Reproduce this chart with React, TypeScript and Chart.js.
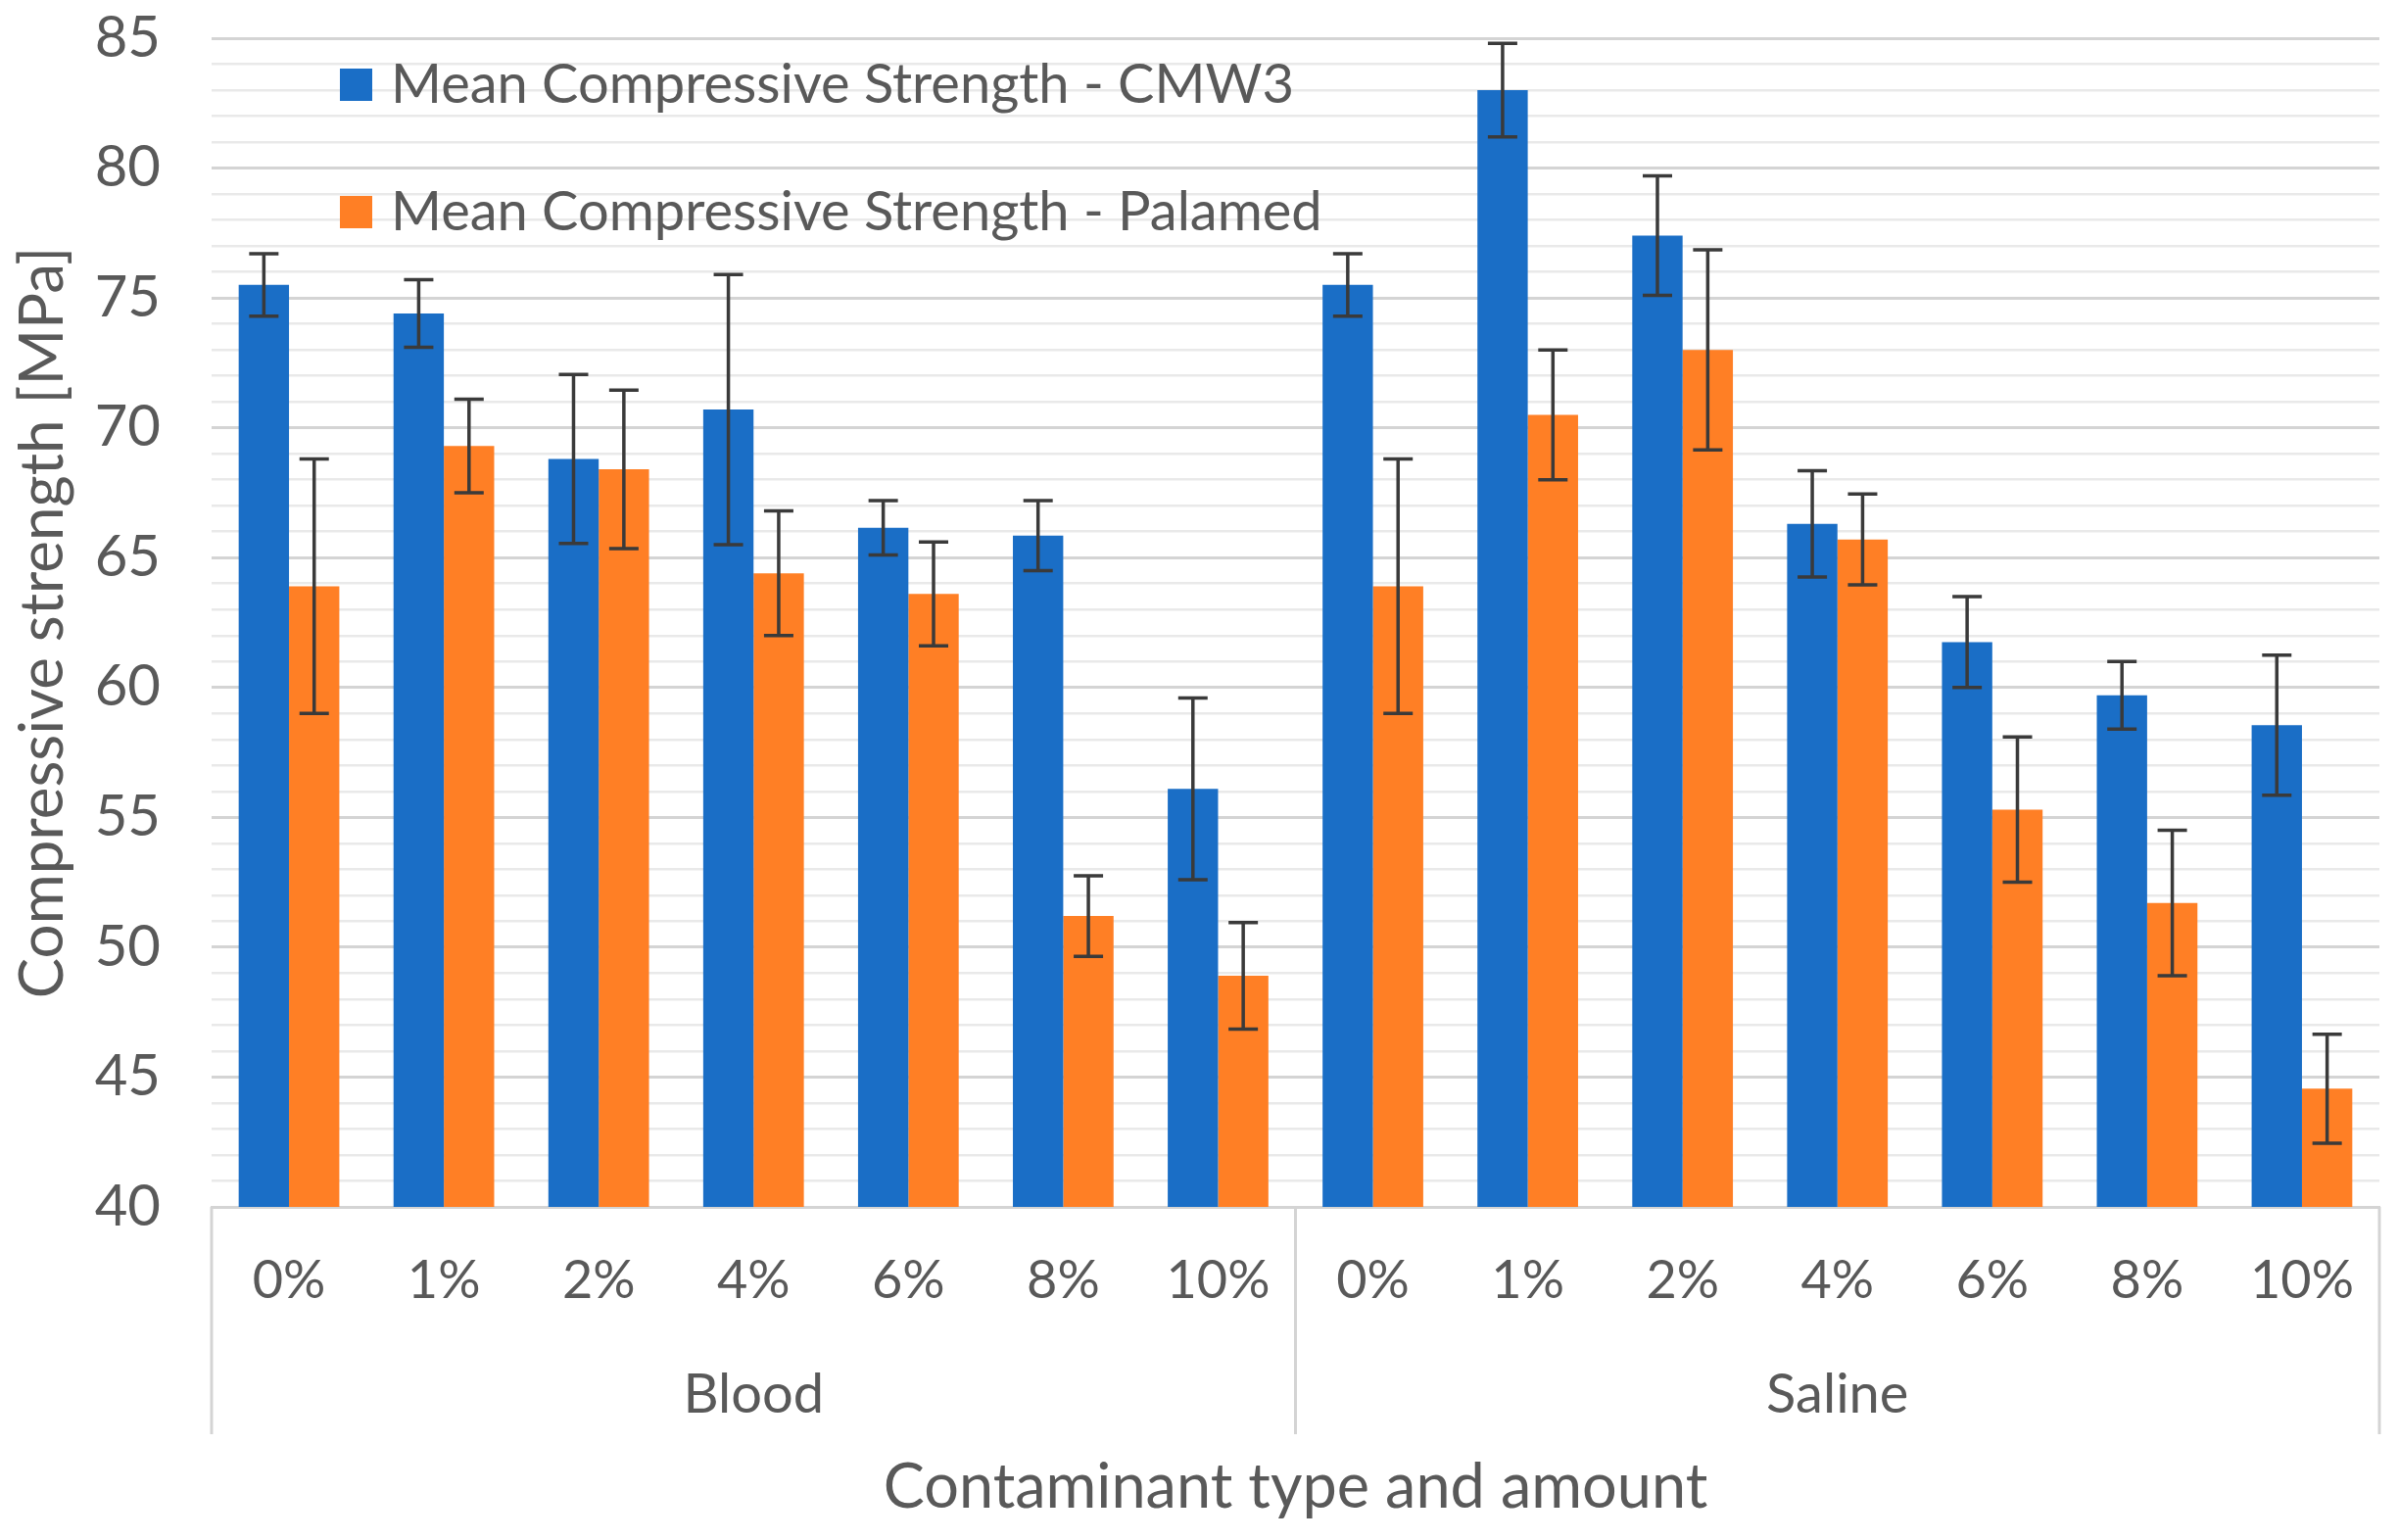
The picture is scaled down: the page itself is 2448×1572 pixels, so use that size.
import React, { useEffect, useRef } from 'react';
import { Chart, registerables } from 'chart.js';

Chart.register(...registerables);

const categories = ['0%', '1%', '2%', '4%', '6%', '8%', '10%', '0%', '1%', '2%', '4%', '6%', '8%', '10%'];
const groupNames = ['Blood', 'Saline'];
const groupSpans = [7, 7];
const seriesNames = ['Mean Compressive Strength - CMW3', 'Mean Compressive Strength - Palamed'];
const cmw3 = [75.5, 74.4, 68.8, 70.7, 66.15, 65.85, 56.1, 75.5, 83.0, 77.4, 66.3, 61.75, 59.7, 58.55];
const cmw3Err = [1.2, 1.3, 3.25, 5.2, 1.05, 1.35, 3.5, 1.2, 1.8, 2.3, 2.05, 1.75, 1.3, 2.7];
const palamed = [63.9, 69.3, 68.4, 64.4, 63.6, 51.2, 48.9, 63.9, 70.5, 73.0, 65.7, 55.3, 51.7, 44.55];
const palamedErr = [4.9, 1.8, 3.05, 2.4, 2.0, 1.55, 2.05, 4.9, 2.5, 3.85, 1.75, 2.8, 2.8, 2.1];
const yMin = 40;
const yMax = 85;

const FONT = 'Lato, "Open Sans", sans-serif';
const TEXT = '#595959';
const BLUE = '#1a6ec6';
const ORANGE = '#ff7f25';
const W = 2448;
const H = 1572;

const errorBarPlugin = {
  id: 'errorBars',
  afterDatasetsDraw(chart: any) {
    const ctx = chart.ctx;
    const y = chart.scales.y;
    const errs = [cmw3Err, palamedErr];
    ctx.save();
    ctx.strokeStyle = '#3a3a3a';
    ctx.lineWidth = 3.5;
    chart.data.datasets.forEach((ds: any, i: number) => {
      const meta = chart.getDatasetMeta(i);
      meta.data.forEach((el: any, j: number) => {
        const v = ds.data[j];
        const e = errs[i][j];
        const top = y.getPixelForValue(v + e);
        const bot = y.getPixelForValue(v - e);
        const x = el.x;
        const cap = 15;
        ctx.beginPath();
        ctx.moveTo(x, top);
        ctx.lineTo(x, bot);
        ctx.moveTo(x - cap, top);
        ctx.lineTo(x + cap, top);
        ctx.moveTo(x - cap, bot);
        ctx.lineTo(x + cap, bot);
        ctx.stroke();
      });
    });
    ctx.restore();
  },
};

const groupAxisPlugin = {
  id: 'groupAxis',
  afterDraw(chart: any) {
    const ctx = chart.ctx;
    const x = chart.scales.x;
    const area = chart.chartArea;
    ctx.save();
    ctx.strokeStyle = '#d4d4d4';
    ctx.lineWidth = 3;
    let start = 0;
    const bounds: number[] = [start];
    groupSpans.forEach((s) => {
      start += s;
      bounds.push(start);
    });
    bounds.forEach((b) => {
      const px = x.getPixelForValue(b - 0.5);
      ctx.beginPath();
      ctx.moveTo(px, area.bottom);
      ctx.lineTo(px, area.bottom + 232);
      ctx.stroke();
    });
    ctx.fillStyle = TEXT;
    ctx.font = `56px ${FONT}`;
    ctx.textAlign = 'center';
    ctx.textBaseline = 'middle';
    groupNames.forEach((g, i) => {
      const a = x.getPixelForValue(bounds[i] - 0.5);
      const b = x.getPixelForValue(bounds[i + 1] - 0.5);
      ctx.fillText(g, (a + b) / 2, area.bottom + 192);
    });
    ctx.restore();
  },
};

const legendPlugin = {
  id: 'innerLegend',
  afterDraw(chart: any) {
    const ctx = chart.ctx;
    const area = chart.chartArea;
    ctx.save();
    ctx.font = `56px ${FONT}`;
    ctx.textAlign = 'left';
    ctx.textBaseline = 'middle';
    chart.data.datasets.forEach((ds: any, i: number) => {
      const cy = area.top + 47 + i * 130;
      const sx = area.left + 131;
      ctx.fillStyle = ds.backgroundColor;
      ctx.fillRect(sx, cy - 16, 33, 33);
      ctx.fillStyle = TEXT;
      ctx.fillText(ds.label, sx + 52, cy + 1);
    });
    ctx.restore();
  },
};

export default function App() {
  const ref = useRef<HTMLCanvasElement | null>(null);
  useEffect(() => {
    document.body.style.margin = '0';
    document.body.style.overflow = 'hidden';
    const canvas = ref.current;
    if (!canvas) return;
    const chart = new Chart(canvas, {
      type: 'bar',
      data: {
        labels: categories,
        datasets: [
          { label: seriesNames[0], data: cmw3, backgroundColor: BLUE, borderWidth: 0 },
          { label: seriesNames[1], data: palamed, backgroundColor: ORANGE, borderWidth: 0 },
        ],
      },
      options: {
        animation: false,
        responsive: false,
        devicePixelRatio: 1,
        layout: { padding: { top: 39, right: 19, left: 0, bottom: 0 } },
        plugins: { legend: { display: false }, tooltip: { enabled: false }, title: { display: false } },
        datasets: { bar: { categoryPercentage: 0.65, barPercentage: 1.0 } },
        scales: {
          x: {
            grid: { display: false, drawTicks: false },
            border: { display: true, color: '#d4d4d4', width: 3 },
            ticks: { color: TEXT, font: { family: FONT, size: 54 }, padding: 43, maxRotation: 0, autoSkip: false },
            title: {
              display: true,
              text: 'Contaminant type and amount',
              color: TEXT,
              font: { family: FONT, size: 63 },
              padding: { top: 0, bottom: 16 },
            },
            afterFit: (s: any) => {
              s.height = H - 1232;
            },
          },
          y: {
            min: yMin,
            max: yMax,
            border: { display: false },
            grid: {
              drawTicks: false,
              color: (c: any) => (c.tick && c.tick.value % 5 === 0 ? '#d4d4d4' : '#e9e9e9'),
              lineWidth: (c: any) => (c.tick && c.tick.value % 5 === 0 ? 3 : 2.5),
            },
            ticks: {
              stepSize: 1,
              autoSkip: false,
              color: TEXT,
              font: { family: FONT, size: 58 },
              padding: 52,
              callback: (v: any) => (Number(v) % 5 === 0 ? String(v) : ''),
            },
            title: {
              display: true,
              text: 'Compressive strength [MPa]',
              color: TEXT,
              font: { family: FONT, size: 62 },
              padding: { top: 7, bottom: 0 },
            },
            afterFit: (s: any) => {
              s.width = 216;
              s.paddingTop = 0;
              s.paddingBottom = 0;
            },
          },
        },
      },
      plugins: [errorBarPlugin, groupAxisPlugin, legendPlugin],
    });
    return () => chart.destroy();
  }, []);
  return (
    <div style={{ width: W, height: H, background: '#fff' }}>
      <canvas ref={ref} width={W} height={H} style={{ display: 'block', width: W, height: H }} />
    </div>
  );
}
